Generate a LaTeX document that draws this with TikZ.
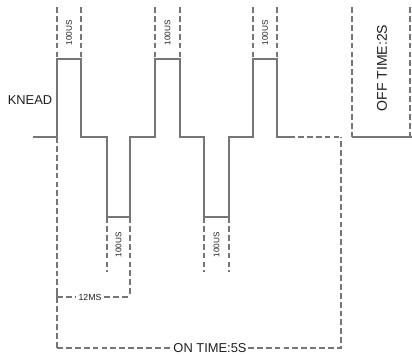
\documentclass[tikz,border=0pt]{standalone}
\usepackage{fontspec}
\setmainfont{Liberation Sans}
\definecolor{cWave}{RGB}{118,118,118}
\definecolor{cText}{RGB}{30,30,30}

\begin{document}
\begin{tikzpicture}[
  x=0.03cm, y=-0.03cm, color=cText,
  wave/.style  ={draw=cWave, line width=1.2pt, line join=miter},
  guide/.style ={draw=cWave, line width=1.0pt, dash pattern=on 5pt off 2.6pt},
  tiny/.style  ={font=\fontsize{7}{8}\selectfont, rotate=90, inner sep=0.5pt},
  big/.style   ={font=\fontsize{11}{13}\selectfont, inner sep=1pt},
]
\useasboundingbox (0,0) rectangle (412,355);

% ----- geometry --------------------------------------------------------
\def\yG{7}\def\yH{59}\def\yM{137}\def\yL{217}
\def\yE{272}\def\yP{297}\def\yQ{348}

% ----- knead waveform ---------------------------------------------------
\draw[wave] (33,\yM) -- (57,\yM) -- (57,\yH) -- (81,\yH) -- (81,\yM)
  -- (107,\yM) -- (107,\yL) -- (130,\yL) -- (130,\yM)
  -- (155,\yM) -- (155,\yH) -- (180,\yH) -- (180,\yM)
  -- (204,\yM) -- (204,\yL) -- (229,\yL) -- (229,\yM)
  -- (253,\yM) -- (253,\yH) -- (277,\yH) -- (277,\yM) -- (289,\yM);
\draw[guide] (289,\yM) -- (341,\yM);

% ----- pulse widths, high side ----------------------------------------
\foreach \xa/\xb in {57/81,155/180,253/277}{
  \draw[guide] (\xa,\yG) -- (\xa,\yH);
  \draw[guide] (\xb,\yG) -- (\xb,\yH);
}
\node[tiny] (wA) at (69,33)  {100US};
\node[tiny] (wB) at (167.5,33) {100US};
\node[tiny] (wC) at (265,33) {100US};

% ----- pulse widths, low side -----------------------------------------
\draw[guide] (107,\yL) -- (107,\yE);
\draw[guide] (130,\yL) -- (130,\yP);
\draw[guide] (204,\yL) -- (204,\yE);
\draw[guide] (229,\yL) -- (229,\yE);
\node[tiny] (wD) at (118.5,245) {100US};
\node[tiny] (wE) at (216.5,245) {100US};

% ----- period and on time ----------------------------------------------
\node[font=\fontsize{7.5}{8}\selectfont, inner sep=2pt] (per) at (90,\yP) {12MS};
\draw[guide] (57,\yP) -- (per.west);
\draw[guide] (per.east) -- (130,\yP);
\draw[draw=cWave, line width=1.0pt] (57,\yP-6) -- (57,\yP+6);
\draw[guide] (57,\yM) -- (57,\yQ);

\node[big] (on) at (210,\yQ) {ON TIME:5S};
\draw[guide] (57,\yQ) -- (on.west);
\draw[guide] (on.east) -- (341,\yQ) -- (341,\yM);

% ----- off time --------------------------------------------------------
\draw[guide] (352,\yG) -- (352,\yM);
\draw[guide] (410,\yG) -- (410,\yM);
\draw[wave] (352,\yM) -- (412,\yM);
\node[big, font=\fontsize{12}{14}\selectfont, rotate=90] (off) at (382,68) {OFF TIME:2S};

% ----- labels -----------------------------------------------------------
\node[big] (knead) at (30,100) {KNEAD};

\end{tikzpicture}
\end{document}
